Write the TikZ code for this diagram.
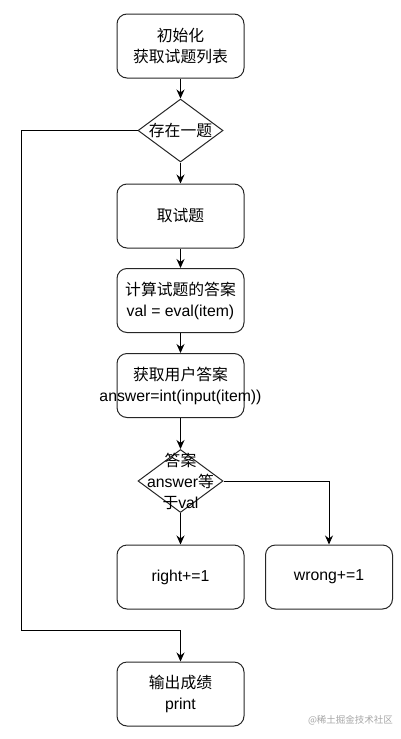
\documentclass[tikz,border=0pt]{standalone}
\usepackage{fontspec}
\setmainfont{Liberation Sans}
\newfontfamily\cjk{Noto Sans CJK SC}
\usetikzlibrary{shapes.geometric,arrows.meta}

\tikzset{
  flowbox/.style={draw=black!85, line width=1pt, rounded corners=10pt,
    minimum width=127pt, minimum height=64pt, inner sep=0pt, align=center},
  decision/.style={draw=black!85, line width=1pt, diamond, inner sep=0pt,
    minimum width=85pt, minimum height=63pt},
  flow/.style={draw=black, line width=1pt, -{Stealth[length=9pt,width=8pt]}},
}

\begin{document}
\begin{tikzpicture}[x=1pt, y=1pt, font=\fontsize{15.8}{21}\selectfont]
			\useasboundingbox (0,0) rectangle (401,-739);

			% Boxes of the main column
			\node[flowbox] (init) at (180.5,-46) {{\cjk 初始化}\\{\cjk 获取试题列表}};
			\node[decision] (exist) at (180.5,-130.5) {};
			\node (existtext) at (exist) {\cjk 存在一题};
			\node[flowbox] (fetch) at (180.5,-216) {\cjk 取试题};
			\node[flowbox] (calc) at (180.5,-300.5) {{\cjk 计算试题的答案}\\val = eval(item)};
			\node[flowbox] (ask) at (180.5,-385.5)
			{{\cjk 获取用户答案}\\\makebox[0pt][c]{answer=int(input(item))}};
			\node[decision] (check) at (180.5,-481) {};
			\node[align=center] (checktext) at (check)
			{{\cjk 答案}\\answer{\cjk 等}\\{\cjk 于}val};
			\node[flowbox] (right) at (180.5,-577) {right+=1};
			\node[flowbox] (wrong) at (329,-577) {wrong+=1};
			\node[flowbox] (result) at (180.5,-694) {{\cjk 输出成绩}\\print};

			% Arrows down the column
			\draw[flow] (init) -- (exist);
			\draw[flow] (exist) -- (fetch);
			\draw[flow] (fetch) -- (calc);
			\draw[flow] (calc) -- (ask);
			\draw[flow] (ask) -- (check);
			\draw[flow] (check) -- (right);
			\draw[flow] (check.east) -| (wrong.north);

			% Loop back when no item is left
			\coordinate (loopturn) at (21,-630);
			\draw[flow] (exist.west) -| (loopturn) -| (result.north);

			% Watermark
			\node[text=black!35, font=\fontsize{9.5}{11}\selectfont\cjk] (mark) at (350.5,-720) {@稀土掘金技术社区};

		\end{tikzpicture}
\end{document}
